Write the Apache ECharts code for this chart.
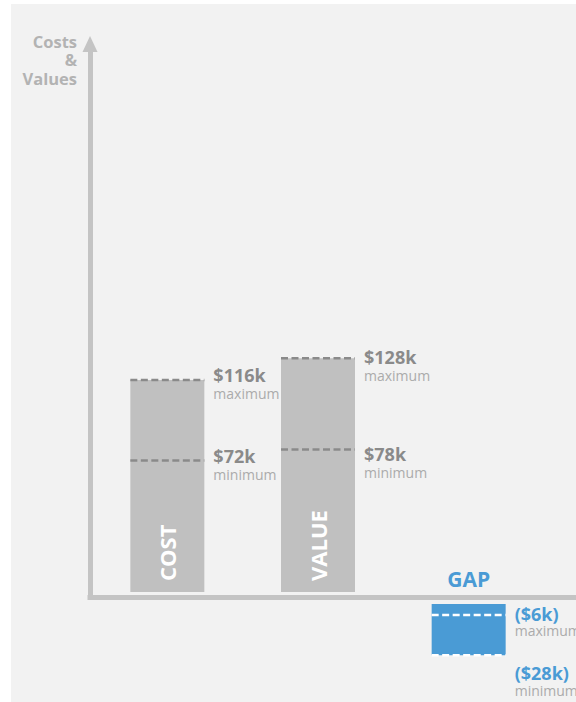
<!DOCTYPE html>
<html><head><meta charset="utf-8">
<script src="https://cdn.jsdelivr.net/npm/echarts@6/dist/echarts.min.js"></script>
<style>html,body{margin:0;padding:0;background:#fff;}#c{width:576px;height:702px;}</style>
</head><body><div id="c"></div>
<script>
// ---- data ----
const categories = ['COST', 'VALUE', 'GAP'];
const maxValues = [116, 128, -6];
const minValues = [72, 78, -28];
const levelNames = ['maximum', 'minimum'];
const axisTitle = ['Costs', '&', 'Values'];

// ---- layout / style ----
const FONT = "'Open Sans', sans-serif";
const GREY_BAR = '#c0c0c0', AXIS = '#c4c4c4', DASH = '#8a8a8a', NUM = '#8a8a8a', WORD = '#ababab', BLUE = '#4a9bd5';
const BAR_W = 74;
const PLOT_TOP = 44, ZERO_Y = 592, AXIS_Y = 597.5, MAIN_MAX = 300;
const PX_PER_K = (ZERO_Y - PLOT_TOP) / MAIN_MAX;
const GAP_TOP = 604, GAP_MIN = -30;
const NUDGE = [[-5.5, -4.5], [-1, 4], [-1, 18]];
const WORD_GAP = [18.5, 18.5, 17];
const H = 702;

const fmt = v => v >= 0 ? '$' + v + 'k' : '($' + (-v) + 'k)';
const barEnds = categories.map((c, i) => Math.abs(maxValues[i]) >= Math.abs(minValues[i]) ? maxValues[i] : minValues[i]);
const isGap = barEnds.map(v => v < 0);

function levelItems(gap) {
  const out = [];
  categories.forEach((c, i) => {
    if (isGap[i] !== gap) return;
    [maxValues[i], minValues[i]].forEach((v, j) => out.push([i, v, j]));
  });
  return out;
}

function renderLevel(dashColor, numColor) {
  return function (params, api) {
    const i = api.value(0), v = api.value(1), j = api.value(2);
    const p = api.coord([i, v]);
    const half = BAR_W / 2;
    const tx = p[0] + half + 9;
    const ny = p[1] + NUDGE[i][j];
    return {
      type: 'group', children: [
        { type: 'line', shape: { x1: p[0] - half, y1: p[1], x2: p[0] + half, y2: p[1] },
          style: { stroke: dashColor, lineWidth: 2.5, lineDash: [7, 3.5] } },
        { type: 'text', x: tx, y: ny,
          style: { text: fmt(v), fill: numColor, fontSize: 18, fontWeight: 'bold', fontFamily: FONT, align: 'left', verticalAlign: 'middle' } },
        { type: 'text', x: tx, y: ny + WORD_GAP[i],
          style: { text: levelNames[j], fill: WORD, fontSize: 14, fontFamily: FONT, align: 'left', verticalAlign: 'middle' } }
      ]
    };
  };
}

const hiddenCat = gi => ({ gridIndex: gi, type: 'category', data: categories, show: false });

const titleLines = axisTitle.map((t, k) => ({
  type: 'text', x: 77, y: 41 + k * 18.5,
  style: { text: t, fill: '#b3b3b3', fontSize: 16.5, fontWeight: 'bold', fontFamily: FONT, align: 'right', verticalAlign: 'middle' }
}));

const chart = echarts.init(document.getElementById('c'), null, { renderer: 'svg' });
chart.setOption({
  backgroundColor: '#ffffff',
  animation: false,
  graphic: [
    { type: 'rect', left: 11, top: 4, z: -10, silent: true, shape: { width: 570, height: 698 }, style: { fill: '#f2f2f2' } }
  ].concat(titleLines),
  grid: [
    { left: 90, right: 0, top: PLOT_TOP, bottom: H - AXIS_Y },
    { left: 92, right: 32, top: PLOT_TOP, bottom: H - ZERO_Y },
    { left: 92, right: 32, top: GAP_TOP, height: -GAP_MIN * PX_PER_K }
  ],
  xAxis: [
    { gridIndex: 0, type: 'value', min: 0, max: 1,
      axisLine: { show: true, lineStyle: { color: AXIS, width: 5, cap: 'square' } },
      axisTick: { show: false }, axisLabel: { show: false }, splitLine: { show: false } },
    hiddenCat(1), hiddenCat(2)
  ],
  yAxis: [
    { gridIndex: 0, type: 'value', min: 0, max: 1,
      axisLine: { show: true, symbol: ['none', 'triangle'], symbolSize: [15, 16], lineStyle: { color: AXIS, width: 5 } },
      axisTick: { show: false }, axisLabel: { show: false }, splitLine: { show: false } },
    { gridIndex: 1, type: 'value', min: 0, max: MAIN_MAX, show: false },
    { gridIndex: 2, type: 'value', min: GAP_MIN, max: 0, show: false }
  ],
  series: [
    { type: 'bar', xAxisIndex: 1, yAxisIndex: 1, barWidth: BAR_W,
      data: barEnds.map((v, i) => isGap[i] ? '-' : v),
      itemStyle: { color: GREY_BAR },
      label: { show: true, position: 'insideBottom', distance: 11, rotate: 90, align: 'left', verticalAlign: 'middle',
               formatter: '{b}', color: '#ffffff', fontSize: 22, fontWeight: 'bold', fontFamily: FONT } },
    { type: 'bar', xAxisIndex: 2, yAxisIndex: 2, barWidth: BAR_W,
      data: barEnds.map((v, i) => isGap[i] ? v : '-'),
      itemStyle: { color: BLUE },
      label: { show: true, position: 'top', distance: 15, formatter: '{b}', color: BLUE, fontSize: 21, fontWeight: 'bold', fontFamily: FONT } },
    { type: 'custom', xAxisIndex: 1, yAxisIndex: 1, data: levelItems(false), encode: { x: 0, y: 1 },
      renderItem: renderLevel(DASH, NUM), z: 5 },
    { type: 'custom', xAxisIndex: 2, yAxisIndex: 2, data: levelItems(true), encode: { x: 0, y: 1 },
      renderItem: renderLevel('#ffffff', BLUE), z: 5 }
  ]
});
</script></body></html>
